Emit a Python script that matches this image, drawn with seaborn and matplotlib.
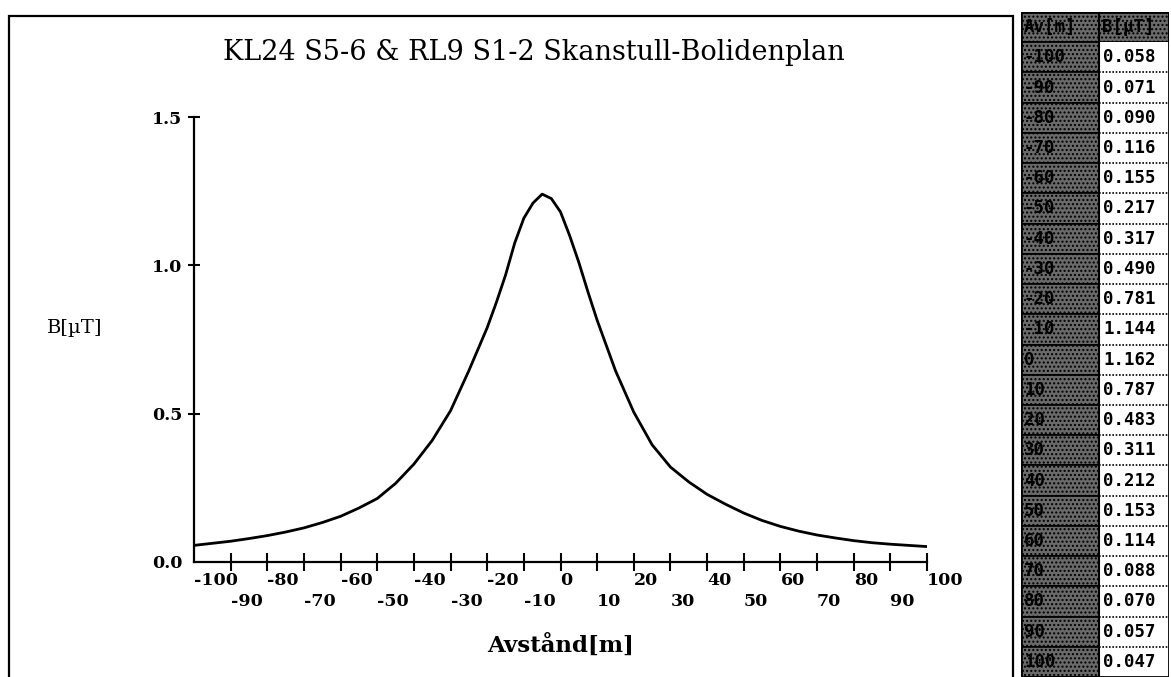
import numpy as np
import pandas as pd
import matplotlib
matplotlib.use("Agg")
import matplotlib.pyplot as plt
from matplotlib.patches import Rectangle
import seaborn as sns

# ---------------- data ----------------
dist_m = [-100, -95, -90, -85, -80, -75, -70, -65, -60, -55, -50, -45, -40, -35, -30,
          -25, -20, -17.5, -15, -12.5, -10, -7.5, -5, -2.5, 0, 2.5, 5, 7.5, 10, 12.5,
          15, 20, 25, 30, 35, 40, 45, 50, 55, 60, 65, 70, 75, 80, 85, 90, 95, 100]
b_uT = [0.056, 0.063, 0.070, 0.079, 0.089, 0.101, 0.115, 0.133, 0.154, 0.182, 0.214,
        0.265, 0.330, 0.410, 0.510, 0.645, 0.790, 0.875, 0.967, 1.075, 1.159, 1.210,
        1.240, 1.225, 1.180, 1.100, 1.010, 0.910, 0.815, 0.730, 0.645, 0.505, 0.395,
        0.320, 0.270, 0.228, 0.195, 0.165, 0.140, 0.120, 0.104, 0.091, 0.081, 0.072,
        0.065, 0.060, 0.056, 0.052]

table_av = ["-100", "-90", "-80", "-70", "-60", "-50", "-40", "-30", "-20", "-10", "0",
            "10", "20", "30", "40", "50", "60", "70", "80", "90", "100"]
table_b = ["0.058", "0.071", "0.090", "0.116", "0.155", "0.217", "0.317", "0.490",
           "0.781", "1.144", "1.162", "0.787", "0.483", "0.311", "0.212", "0.153",
           "0.114", "0.088", "0.070", "0.057", "0.047"]

x_ticks_upper = [-100, -80, -60, -40, -20, 0, 20, 40, 60, 80, 100]
x_ticks_lower = [-90, -70, -50, -30, -10, 10, 30, 50, 70, 90]
y_ticks = [0.0, 0.5, 1.0, 1.5]

title = "KL24 S5-6 & RL9 S1-2 Skanstull-Bolidenplan"
x_label = "Avstånd[m]"
y_label = "B[µT]"

# ---------------- style ----------------
sns.set_theme(style="white")
plt.rcParams["font.family"] = ["DejaVu Serif"]
plt.rcParams["axes.unicode_minus"] = False
for k in ["text.color", "axes.labelcolor", "xtick.color", "ytick.color"]:
    plt.rcParams[k] = "black"

W, H = 1171, 677
fig = plt.figure(figsize=(W / 100, H / 100), dpi=100)
fig.patch.set_facecolor("white")

def fx(px):
    return px / W

def fy(py):
    return 1 - py / H

# chart panel border
fig.add_artist(Rectangle((fx(9), -0.01), fx(1013 - 9), fy(16) + 0.01,
                         transform=fig.transFigure, fill=False,
                         edgecolor="black", lw=1.6))

# ---------------- main axes ----------------
ax = fig.add_axes([fx(194), fy(562), fx(927 - 194), (562 - 117) / H])
df = pd.DataFrame({"x": dist_m, "y": b_uT})
sns.lineplot(data=df, x="x", y="y", ax=ax, color="black", lw=2.0)

ax.set_xlim(-100, 100)
ax.set_ylim(0, 1.5)
for s in ["top", "right"]:
    ax.spines[s].set_visible(False)
for s in ["left", "bottom"]:
    ax.spines[s].set_color("black")
    ax.spines[s].set_linewidth(1.6)

ax.set_xticks(x_ticks_upper)
ax.set_xticklabels([str(v) for v in x_ticks_upper], ha="left",
                   fontsize=12.5, fontweight="bold")
ax.set_xticks(x_ticks_lower, minor=True)
ax.set_xticklabels([str(v) for v in x_ticks_lower], minor=True, ha="left",
                   fontsize=12.5, fontweight="bold")
ax.set_yticks(y_ticks)
ax.set_yticklabels([f"{v:.1f}" for v in y_ticks], fontsize=12.5, fontweight="bold")
ax.tick_params(axis="x", which="major", direction="inout", length=13, width=1.5,
               pad=1, colors="black", bottom=True)
ax.tick_params(axis="x", which="minor", direction="inout", length=13, width=1.5,
               pad=15.5, colors="black", bottom=True)
ax.tick_params(axis="y", direction="inout", length=9, width=1.5, pad=4,
               colors="black", left=True)
ax.tick_params(axis="y", which="minor", left=False)
ax.xaxis.get_major_ticks()[0].tick1line.set_visible(False)
ax.yaxis.get_major_ticks()[0].tick1line.set_visible(False)
ax.grid(False)

ax.set_xlabel(x_label, fontsize=16.5, fontweight="bold")
ax.xaxis.set_label_coords(0.5, (562 - 645) / 445)
ax.xaxis.label.set_va("center")
ax.set_ylabel(y_label, fontsize=14, rotation=0)
ax.yaxis.set_label_coords((75 - 194) / 733, (562 - 328) / 445)
ax.yaxis.label.set_va("center")
ax.yaxis.label.set_ha("center")

ax.text((534 - 194) / 733, (562 - 52) / 445, title, transform=ax.transAxes,
        ha="center", va="center", fontsize=19.5, color="black")

# ---------------- value table ----------------
tx = fig.add_axes([fx(1021), 0, fx(1169 - 1021), (677 - 12) / H])
n_rows = len(table_av) + 1
left_w, right_w = 78, 70
tx.set_xlim(0, left_w + right_w)
tx.set_ylim(n_rows, 0)
tx.axis("off")

rows = np.arange(n_rows) + 0.5
shade = "#6a6a6a"
tx.barh(rows, [left_w] * n_rows, left=0, height=1, color=shade,
        edgecolor="black", lw=1.2, hatch="....")
tx.barh(rows[:1], [right_w], left=left_w, height=1, color=shade,
        edgecolor="black", lw=1.2, hatch="....")
tx.barh(rows[1:], [right_w] * (n_rows - 1), left=left_w, height=1, color="white",
        edgecolor="none")
for r in range(2, n_rows):
    tx.plot([left_w, left_w + right_w], [r, r], color="black", lw=1.2, ls=(0, (1, 1)))
tx.plot([left_w, left_w], [0, n_rows], color="black", lw=1.5)
tx.add_patch(Rectangle((0, 0), left_w + right_w, n_rows, fill=False,
                       edgecolor="black", lw=2.0))

mono = dict(family="DejaVu Sans Mono", fontweight="bold", fontsize=12.5,
            va="center", color="black")
tx.text(3, rows[0], "Av[m]", ha="left", **mono)
tx.text(left_w + 3, rows[0], "B[µT]", ha="left", **mono)
for i, (a, b) in enumerate(zip(table_av, table_b)):
    tx.text(3, rows[i + 1], a, ha="left", **mono)
    tx.text(left_w + 4, rows[i + 1], b, ha="left", **mono)

fig.savefig("out.png", dpi=100, facecolor="white")
